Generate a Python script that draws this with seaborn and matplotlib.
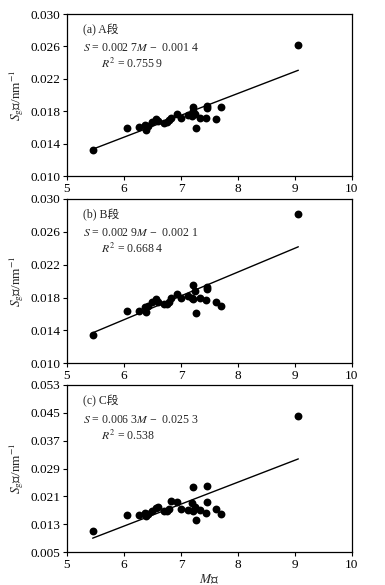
import matplotlib
matplotlib.use('Agg')
import matplotlib.pyplot as plt
import seaborn as sns
import pandas as pd
import numpy as np

# M值（三段共用）
m_vals = [5.45, 6.05, 6.27, 6.37, 6.38, 6.42, 6.50, 6.57, 6.59, 6.70, 6.75, 6.79, 6.82, 6.93,
          7.00, 7.13, 7.19, 7.21, 7.22, 7.24, 7.27, 7.33, 7.45, 7.45, 7.44, 7.61, 7.70, 9.06]
# Sg值
sg_a = [0.0132, 0.0159, 0.0160, 0.0163, 0.0157, 0.0162, 0.0167, 0.0170, 0.0168, 0.0166, 0.0167,
        0.0169, 0.0172, 0.0177, 0.0172, 0.0175, 0.0174, 0.0185, 0.0180, 0.0177, 0.0159, 0.0172,
        0.0187, 0.0184, 0.0172, 0.0171, 0.0185, 0.0262]
sg_b = [0.0135, 0.0164, 0.0164, 0.0168, 0.0162, 0.0170, 0.0174, 0.0178, 0.0175, 0.0172, 0.0172,
        0.0175, 0.0179, 0.0184, 0.0179, 0.0182, 0.0179, 0.0195, 0.0178, 0.0188, 0.0161, 0.0180,
        0.0193, 0.0190, 0.0177, 0.0175, 0.0170, 0.0282]
sg_c = [0.0111, 0.0156, 0.0156, 0.0163, 0.0155, 0.0159, 0.0167, 0.0178, 0.0181, 0.0167, 0.0167,
        0.0174, 0.0197, 0.0194, 0.0174, 0.0171, 0.0191, 0.0236, 0.0167, 0.0181, 0.0143, 0.0171,
        0.0239, 0.0194, 0.0164, 0.0173, 0.0159, 0.0440]

# 拟合系数 (斜率, 截距)
fit_a = (0.0027, -0.0014)
fit_b = (0.0029, -0.0021)
fit_c = (0.0063, -0.0253)

titles = ['(a) A段', '(b) B段', '(c) C段']
eq_texts = [r'$S$ = 0.002 7$M$ −  0.001 4', r'$S$ = 0.002 9$M$ −  0.002 1', r'$S$ = 0.006 3$M$ −  0.025 3']
r2_texts = [r'$R^2$ = 0.755 9', r'$R^2$ = 0.668 4', r'$R^2$ = 0.538']
y_ticks = [[0.010, 0.014, 0.018, 0.022, 0.026, 0.030],
           [0.010, 0.014, 0.018, 0.022, 0.026, 0.030],
           [0.005, 0.013, 0.021, 0.029, 0.037, 0.045, 0.053]]
x_ticks = [5, 6, 7, 8, 9, 10]

sns.set_style('ticks')
plt.rcParams['font.family'] = ['Liberation Serif', 'Noto Sans CJK SC']
plt.rcParams['mathtext.fontset'] = 'stix'
plt.rcParams['axes.unicode_minus'] = False
plt.rcParams['font.size'] = 8

fig = plt.figure(figsize=(3.85, 5.85), dpi=100)
positions = [[0.174, 0.699, 0.740, 0.277],
             [0.174, 0.379, 0.740, 0.281],
             [0.174, 0.056, 0.740, 0.286]]

series = [sg_a, sg_b, sg_c]
fits = [fit_a, fit_b, fit_c]

for i in range(3):
    ax = fig.add_axes(positions[i])
    df = pd.DataFrame({'M': m_vals, 'S': series[i]})
    sns.scatterplot(data=df, x='M', y='S', ax=ax, color='black', s=32, edgecolor='black',
                    linewidth=0, zorder=3)
    k, b = fits[i]
    xl = np.array([min(m_vals), max(m_vals)])
    line_df = pd.DataFrame({'M': xl, 'S': k * xl + b})
    sns.lineplot(data=line_df, x='M', y='S', ax=ax, color='black', linewidth=1.0)

    ax.set_xlim(5, 10)
    ax.set_xticks(x_ticks)
    ax.set_ylim(y_ticks[i][0], y_ticks[i][-1])
    ax.set_yticks(y_ticks[i])
    ax.set_yticklabels([f'{v:.3f}' for v in y_ticks[i]])
    ax.tick_params(direction='out', length=3, width=0.8, labelsize=9.5, colors='black', pad=2)
    for sp in ax.spines.values():
        sp.set_visible(True)
        sp.set_color('black')
        sp.set_linewidth(0.9)

    ax.set_ylabel(r'$S_\mathrm{g}$值/nm$^{-1}$', fontsize=9.5, labelpad=3)
    if i == 2:
        ax.set_xlabel(r'$M$值', fontsize=9.5, labelpad=1)
    else:
        ax.set_xlabel('')

    ax.text(0.055, 0.90, titles[i], transform=ax.transAxes, fontsize=8.5, va='center', ha='left')
    ax.text(0.055, 0.79, eq_texts[i], transform=ax.transAxes, fontsize=8.5, va='center', ha='left')
    ax.text(0.12, 0.695, r2_texts[i], transform=ax.transAxes, fontsize=8.5, va='center', ha='left')

plt.savefig('out.png', dpi=100)
